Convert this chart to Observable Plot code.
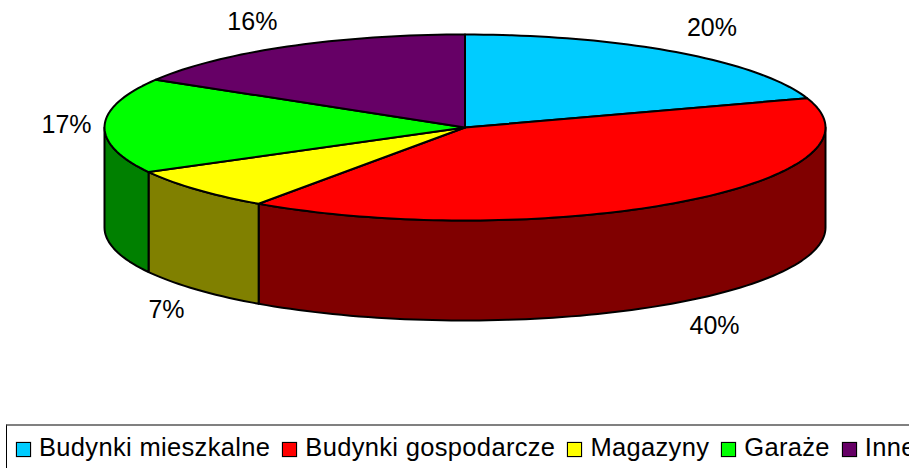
<!DOCTYPE html>
<html><head><meta charset="utf-8">
<script src="https://cdn.jsdelivr.net/npm/d3@7"></script>
<script src="https://cdn.jsdelivr.net/npm/@observablehq/plot@0.6"></script>
<style>
html,body{margin:0;padding:0;background:#fff;width:909px;height:468px;overflow:hidden}
svg{display:block}
#legend{box-sizing:border-box;height:44px;width:1000px;margin-left:6px;border-top:2px solid #808080;border-left:1.5px solid #000;
 display:flex;align-items:center;gap:12px;padding:0 0 0 9px;font:25.5px "Liberation Sans",Arial,sans-serif;letter-spacing:.33px;color:#000;white-space:nowrap}
#legend .item{display:flex;align-items:center;gap:8px;line-height:30px}
#legend .sw{box-sizing:border-box;width:15px;height:15px;border:1.5px solid #000;box-shadow:0 0 1px #555;display:inline-block;margin-top:5px}
</style></head><body>
<div id="chart"></div><div id="legend"></div>
<script>
const categories = ["Budynki mieszkalne","Budynki gospodarcze","Magazyny","Garaże","Inne"];
const shares = [19.9,39.8,7.35,16.55,16.4];
const topColors = ["#00CCFF","#FF0000","#FFFF00","#00FF00","#660066"];
const sideColors = ["#006680","#800000","#808000","#008000","#330033"];

// layout of the tilted disc, in pixels
const cx=464.5, cy=127, rx=360.5, ry=93, depth=100;
const labelDx=[36,34,-30,-38,-35], labelDy=[-24,24,20,-1,-25];

const total=d3.sum(shares);
let acc=0;
const slices=categories.map((name,i)=>{const a0=acc/total*360; acc+=shares[i]; const a1=acc/total*360; return {name,i,a0,a1,mid:(a0+a1)/2};});
const rad=d=>d*Math.PI/180;
const px=a=>Math.sin(rad(a)), py=a=>-Math.cos(rad(a));
const arc=(a0,a1)=>{const n=Math.max(2,Math.ceil((a1-a0)/1.5));return d3.range(n+1).map(k=>a0+(a1-a0)*k/n);};

const tops=[], sides=[];
for(const s of slices){
  const id=s.name;
  tops.push({id,color:topColors[s.i],x:0,y:0});
  for(const a of arc(s.a0,s.a1)) tops.push({id,color:topColors[s.i],x:px(a),y:py(a)});
  tops.push({id,color:topColors[s.i],x:0,y:0});
  const lo=Math.max(s.a0,90), hi=Math.min(s.a1,270);
  if(lo<hi){
    const as=arc(lo,hi), d=depth/ry;
    const pts=[...as.map(a=>({x:px(a),y:py(a)})),...as.slice().reverse().map(a=>({x:px(a),y:py(a)+d}))];
    pts.push(pts[0]);
    for(const p of pts) sides.push({id,color:sideColors[s.i],...p});
  }
}
const labels=slices.map((s,i)=>{
  const front=Math.cos(rad(s.mid))<0;
  return {text:Math.round(shares[i])+"%",x:px(s.mid)+labelDx[i]/rx,y:py(s.mid)+(front?depth/ry:0)+labelDy[i]/ry};
});

const H=424;
const chart=Plot.plot({
  width:909,height:H,margin:0,
  style:{background:"#fff",fontFamily:'"Liberation Sans",Arial,sans-serif'},
  x:{axis:null,domain:[-1,1],range:[cx-rx,cx+rx]},
  y:{axis:null,domain:[-1,1],range:[cy-ry,cy+ry]},
  color:{type:"identity"},
  marks:[
    Plot.line(sides,{x:"x",y:"y",z:"id",fill:"color",stroke:"#000",strokeWidth:2,strokeLinejoin:"round"}),
    Plot.line(tops,{x:"x",y:"y",z:"id",fill:"color",stroke:"#000",strokeWidth:2,strokeLinejoin:"round"}),
    Plot.text(labels,{x:"x",y:"y",text:"text",fontSize:25,fill:"#000",textAnchor:"middle"})
  ]
});
document.getElementById("chart").append(chart);

const legend=document.getElementById("legend");
categories.forEach((c,i)=>{
  const it=document.createElement("span");it.className="item";
  const sw=document.createElement("span");sw.className="sw";sw.style.background=topColors[i];
  const t=document.createElement("span");t.textContent=c;
  it.append(sw,t);legend.append(it);
});
</script></body></html>
